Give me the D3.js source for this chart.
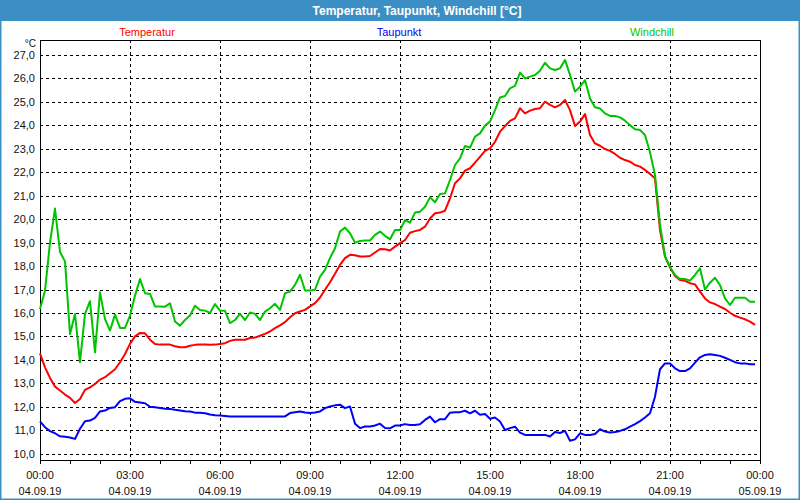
<!DOCTYPE html>
<html>
<head>
<meta charset="utf-8">
<script src="https://cdn.jsdelivr.net/npm/d3@7"></script>
<style>
  html, body { margin: 0; padding: 0; background: #fff; }
  svg { display: block; font-family: "Liberation Sans", Arial, sans-serif; }
</style>
</head>
<body>
<svg width="800" height="500"></svg>
<script>
// Readings every 10 minutes, 04.09.19 00:00 .. 23:50
const temperatur = [
  14.28, 13.68, 13.23, 12.86, 12.69, 12.52, 12.38, 12.16, 12.33, 12.72, 12.83, 12.97,
  13.16, 13.26, 13.43, 13.6, 13.9, 14.25, 14.68, 15.0, 15.15, 15.13, 14.86, 14.68,
  14.65, 14.65, 14.65, 14.58, 14.54, 14.54, 14.6, 14.64, 14.66, 14.65, 14.64, 14.65,
  14.68, 14.71, 14.81, 14.86, 14.86, 14.86, 14.93, 14.95, 15.03, 15.11, 15.21, 15.35,
  15.47, 15.61, 15.82, 15.99, 16.06, 16.13, 16.28, 16.42, 16.66, 16.99, 17.31, 17.67,
  18.05, 18.34, 18.48, 18.46, 18.41, 18.41, 18.43, 18.58, 18.73, 18.72, 18.66, 18.83,
  18.98, 19.11, 19.42, 19.49, 19.54, 19.68, 20.03, 20.25, 20.28, 20.36, 20.89, 21.53,
  21.74, 22.07, 22.17, 22.41, 22.66, 22.91, 23.02, 23.3, 23.73, 23.97, 24.19, 24.3,
  24.73, 24.51, 24.63, 24.7, 24.73, 25.01, 24.87, 24.77, 24.87, 25.08, 24.65, 23.97,
  24.16, 24.48, 23.59, 23.23, 23.13, 22.99, 22.91, 22.78, 22.62, 22.52, 22.45, 22.31,
  22.24, 22.1, 21.93, 21.74, 19.54, 18.4, 17.95, 17.58, 17.41, 17.37, 17.27, 17.22,
  16.91, 16.62, 16.45, 16.38, 16.27, 16.17, 16.01, 15.88, 15.8, 15.73, 15.63, 15.49
];
const taupunkt = [
  11.38, 11.13, 10.96, 10.87, 10.74, 10.72, 10.69, 10.63, 11.06, 11.38, 11.41, 11.53,
  11.8, 11.84, 11.95, 11.98, 12.24, 12.34, 12.36, 12.21, 12.18, 12.15, 12.0, 11.98,
  11.95, 11.92, 11.91, 11.87, 11.84, 11.81, 11.8, 11.75, 11.74, 11.72, 11.67, 11.64,
  11.63, 11.61, 11.59, 11.59, 11.59, 11.59, 11.59, 11.59, 11.59, 11.59, 11.59, 11.59,
  11.59, 11.59, 11.73, 11.77, 11.8, 11.76, 11.73, 11.76, 11.8, 11.94, 12.01, 12.06,
  12.09, 11.94, 12.01, 11.28, 11.09, 11.16, 11.16, 11.2, 11.28, 11.09, 11.08, 11.2,
  11.2, 11.26, 11.22, 11.22, 11.25, 11.44, 11.58, 11.34, 11.47, 11.47, 11.75, 11.77,
  11.77, 11.83, 11.72, 11.83, 11.66, 11.69, 11.49, 11.54, 11.37, 11.01, 11.09, 11.15,
  10.9, 10.8, 10.8, 10.8, 10.8, 10.8, 10.73, 10.92, 10.88, 10.97, 10.55, 10.61,
  10.87, 10.8, 10.8, 10.84, 11.04, 10.94, 10.9, 10.92, 10.97, 11.04, 11.15, 11.26,
  11.39, 11.54, 11.72, 12.43, 13.6, 13.85, 13.85, 13.64, 13.52, 13.52, 13.64, 13.88,
  14.11, 14.21, 14.24, 14.21, 14.17, 14.09, 14.0, 13.9, 13.85, 13.85, 13.81, 13.81
];
const windchill = [
  16.17, 16.95, 19.0, 20.45, 18.6, 18.2, 15.1, 15.96, 13.9, 15.96, 16.5, 14.32,
  16.88, 15.74, 15.25, 15.93, 15.36, 15.36, 15.89, 16.74, 17.45, 16.84, 16.81, 16.28,
  16.28, 16.27, 16.41, 15.64, 15.46, 15.7, 15.89, 16.31, 16.13, 16.1, 16.0, 16.38,
  16.1, 16.09, 15.57, 15.7, 15.96, 15.7, 16.02, 15.96, 15.7, 16.06, 16.2, 16.39,
  16.13, 16.84, 16.91, 17.2, 17.63, 16.96, 16.96, 16.99, 17.55, 17.84, 18.34, 18.76,
  19.47, 19.64, 19.4, 19.0, 19.07, 19.09, 19.09, 19.33, 19.47, 19.29, 19.14, 19.54,
  19.54, 19.96, 19.85, 20.28, 20.32, 20.53, 20.93, 20.72, 21.07, 21.1, 21.67, 22.31,
  22.59, 23.12, 23.05, 23.52, 23.66, 23.99, 24.16, 24.65, 25.19, 25.25, 25.58, 25.68,
  26.25, 26.0, 26.08, 26.15, 26.33, 26.67, 26.43, 26.36, 26.43, 26.79, 26.15, 25.44,
  25.65, 25.93, 25.15, 24.77, 24.72, 24.51, 24.4, 24.4, 24.34, 24.2, 24.01, 23.83,
  23.8, 23.59, 22.85, 21.88, 19.75, 18.43, 17.95, 17.62, 17.45, 17.45, 17.38, 17.62,
  17.9, 17.0, 17.29, 17.5, 17.19, 16.62, 16.34, 16.65, 16.65, 16.65, 16.48, 16.48
];
const seriesNames = ['Temperatur', 'Taupunkt', 'Windchill'];
const seriesColors = ['#ff0000', '#0000ff', '#00c400'];
const yTicks = [10, 11, 12, 13, 14, 15, 16, 17, 18, 19, 20, 21, 22, 23, 24, 25, 26, 27];
const title = 'Temperatur, Taupunkt, Windchill [°C]';

const start = new Date(2019, 8, 4, 0, 0);
const end = new Date(2019, 8, 5, 0, 0);
const times = temperatur.map((d, i) => d3.timeMinute.offset(start, i * 10));

const svg = d3.select('svg');
const W = 800, H = 500;
// plot area
const pLeft = 40, pRight = 760, pTop = 40, pBottom = 460;

// Frame + title bar
svg.append('rect').attr('x', 0.5).attr('y', 0.5).attr('width', W - 1).attr('height', H - 1)
  .attr('fill', '#fff').attr('stroke', '#3c8fc4').attr('stroke-width', 2);
svg.append('rect').attr('x', 0).attr('y', 0).attr('width', W).attr('height', 21).attr('fill', '#3c8fc4');
svg.append('text').attr('x', 417).attr('y', 15).attr('text-anchor', 'middle')
  .attr('fill', '#fff').attr('font-size', 12).attr('font-weight', 'bold').text(title);

// Scales
const x = d3.scaleTime().domain([start, end]).range([pLeft, pRight]);
const y = d3.scaleLinear().domain([9.73, 27.64]).range([pBottom, pTop]);

// Grid lines
const grid = svg.append('g').attr('stroke', '#000').attr('stroke-dasharray', '3,3')
  .attr('shape-rendering', 'crispEdges');
grid.selectAll('line.h').data(yTicks).enter().append('line')
  .attr('x1', pLeft).attr('x2', pRight)
  .attr('y1', d => Math.round(y(d)) + 0.5).attr('y2', d => Math.round(y(d)) + 0.5);
const vTicks = d3.timeHour.every(3).range(d3.timeMinute.offset(start, 1), end);
grid.selectAll('line.v').data(vTicks).enter().append('line')
  .attr('y1', pTop).attr('y2', pBottom)
  .attr('x1', d => Math.round(x(d)) + 0.5).attr('x2', d => Math.round(x(d)) + 0.5);

// Y axis labels
const yAxis = d3.axisLeft(y).tickValues(yTicks).tickSize(0).tickPadding(5)
  .tickFormat(d => d.toFixed(1).replace('.', ','));
const gy = svg.append('g').attr('transform', `translate(${pLeft},0)`).call(yAxis);
gy.select('.domain').remove();
gy.selectAll('text').attr('font-size', 11).attr('fill', '#111');
gy.attr('font-family', null).attr('font-size', null);
// unit label above the tick labels
svg.append('text').attr('x', 36).attr('y', 47).attr('text-anchor', 'end')
  .attr('font-size', 10).attr('fill', '#111').text('°C');

// X axis: hourly ticks, labels every 3 hours
const xAxis = d3.axisBottom(x).ticks(d3.timeHour.every(1)).tickSize(3).tickFormat('');
const gx = svg.append('g').attr('transform', `translate(0,${pBottom + 0.5})`)
  .attr('shape-rendering', 'crispEdges').call(xAxis);
gx.select('.domain').remove();
gx.selectAll('line').attr('stroke', '#000');
const labelTimes = d3.timeHour.every(3).range(start, d3.timeMinute.offset(end, 1));
const fmtTime = d3.timeFormat('%H:%M');
const fmtDate = d3.timeFormat('%d.%m.%y');
const xl = svg.append('g').attr('font-size', 11).attr('fill', '#111').attr('text-anchor', 'middle');
xl.selectAll('text.t').data(labelTimes).enter().append('text')
  .attr('x', d => x(d)).attr('y', 479).text(fmtTime);
xl.selectAll('text.d').data(labelTimes).enter().append('text')
  .attr('x', d => x(d)).attr('y', 495).text(fmtDate);

// Plot frame
svg.append('rect').attr('x', pLeft + 0.5).attr('y', pTop + 0.5)
  .attr('width', pRight - pLeft).attr('height', pBottom - pTop)
  .attr('fill', 'none').attr('stroke', '#000').attr('shape-rendering', 'crispEdges');

// Legend
const legendX = [147, 399, 652];
svg.selectAll('text.legend').data(seriesNames).enter().append('text')
  .attr('class', 'legend')
  .attr('x', (d, i) => legendX[i]).attr('y', 36).attr('text-anchor', 'middle')
  .attr('font-size', 11).attr('fill', (d, i) => seriesColors[i]).text(d => d);

// Lines
const line = d3.line().x((d, i) => x(times[i])).y(d => y(d));
[temperatur, taupunkt, windchill].forEach((vals, k) => {
  svg.append('path').datum(vals)
    .attr('d', line)
    .attr('fill', 'none')
    .attr('stroke', seriesColors[k])
    .attr('stroke-width', 2)
    .attr('stroke-linejoin', 'round');
});
</script>
</body>
</html>
